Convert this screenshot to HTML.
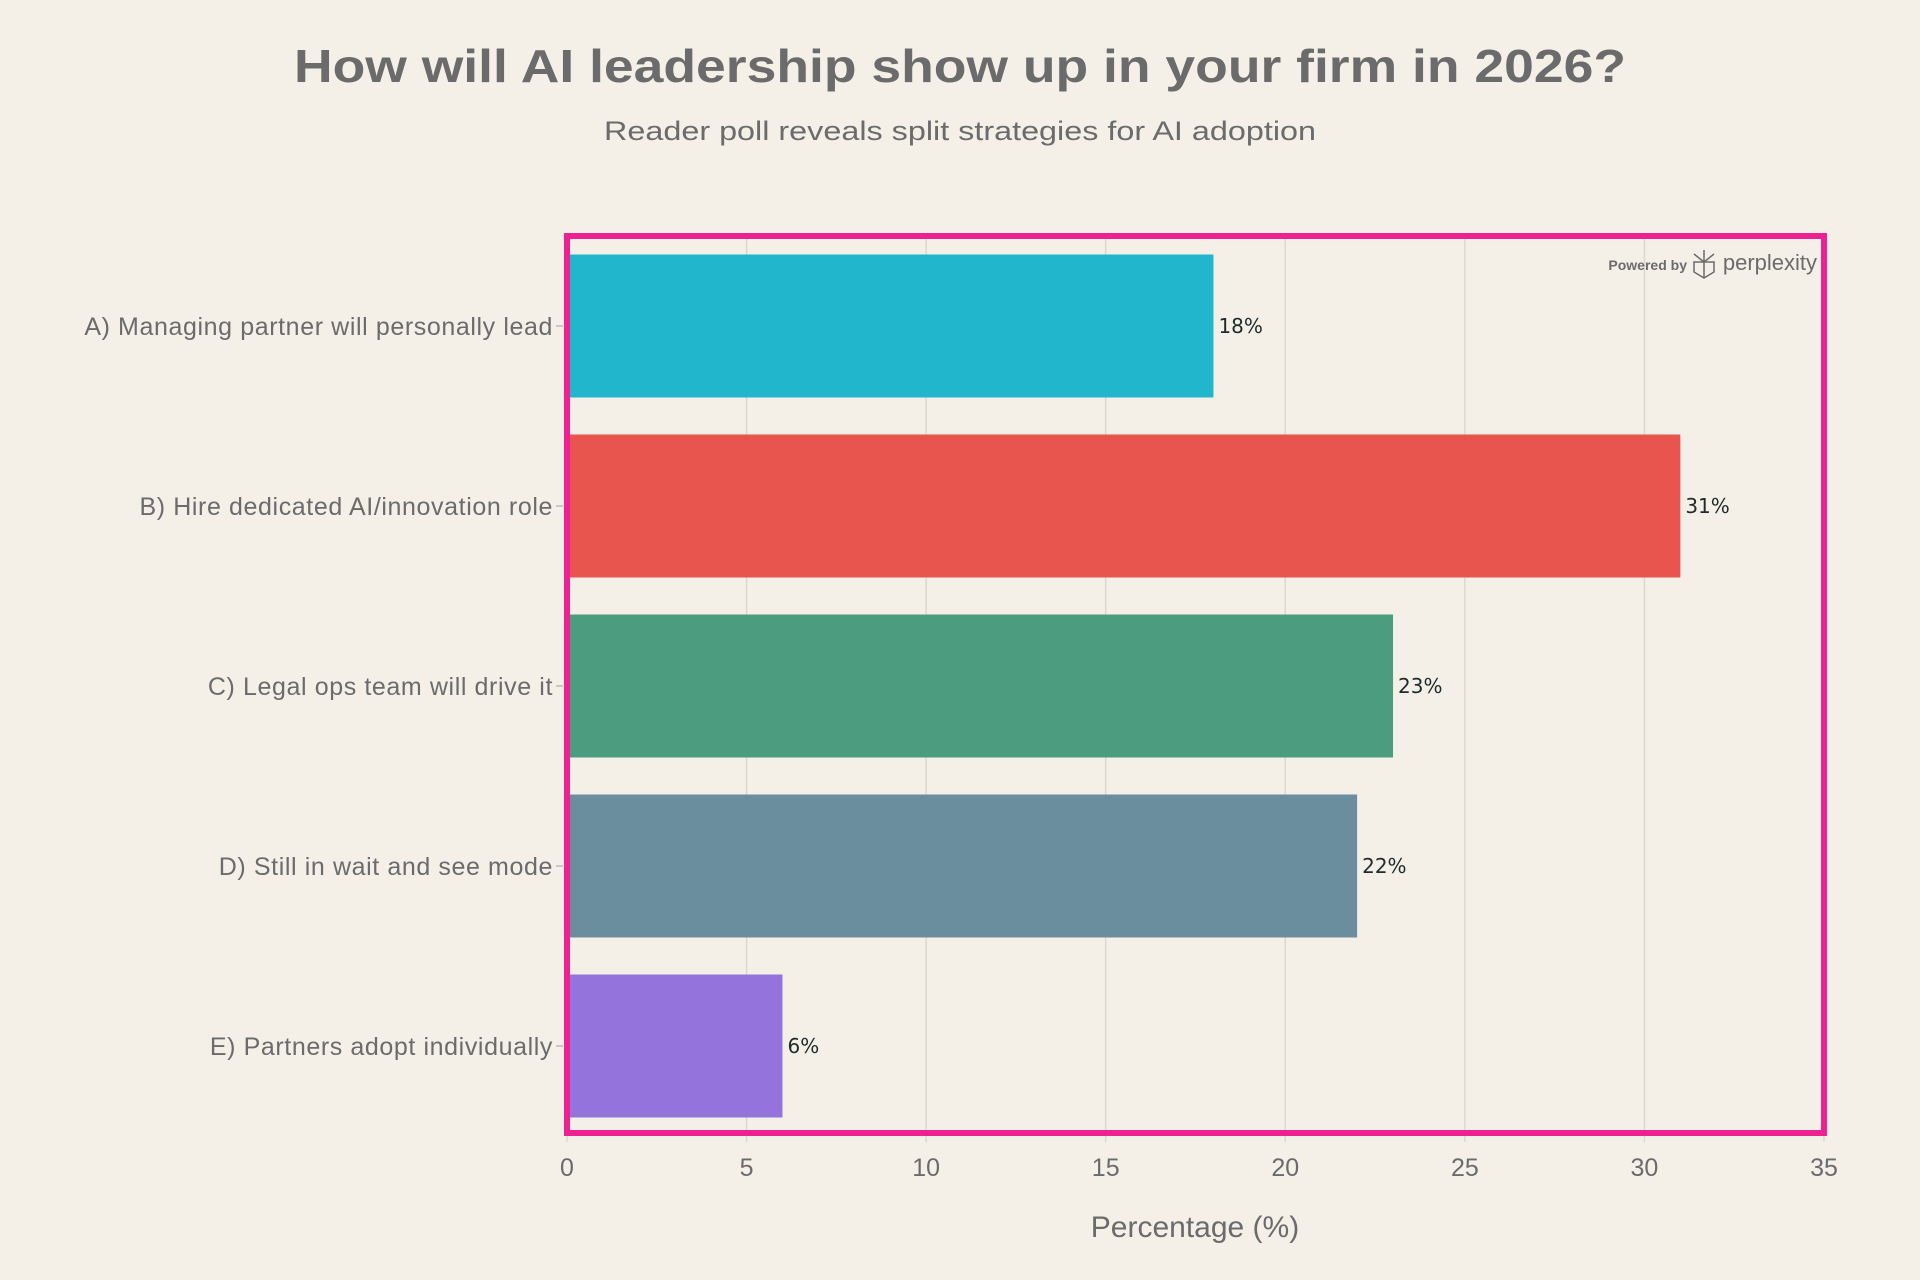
<!DOCTYPE html>
<html><head><meta charset="utf-8"><style>
html,body{margin:0;padding:0;background:#f4f0e8;}
svg{display:block;font-family:"Liberation Sans",sans-serif;}
</style></head><body>
<svg id="chart" width="1920" height="1280" viewBox="0 0 1920 1280">
<rect x="0" y="0" width="1920" height="1280" fill="#f4f0e8"/>
<text x="960" y="82" text-anchor="middle" font-size="46" font-weight="bold" fill="#6b6b6b" textLength="1332" lengthAdjust="spacingAndGlyphs">How will AI leadership show up in your firm in 2026?</text>
<text x="960" y="140" text-anchor="middle" font-size="27" fill="#6b6b6b" textLength="712" lengthAdjust="spacingAndGlyphs">Reader poll reveals split strategies for AI adoption</text>
<g id="grid"></g>
<g id="bars"></g>
<g id="ylabels"></g>
<g id="xlabels"></g>
<rect x="567" y="236" width="1257" height="897" fill="none" stroke="#ee2190" stroke-width="6"/>
<g>
<text x="1687" y="270" text-anchor="end" font-size="14" fill="#6b6b6b" font-weight="bold">Powered by</text>
<path d="M1694 254 l10 8 l10 -8 M1704 250 v28 M1694 262 h20 v10 l-10 6 l-10 -6 z" fill="none" stroke="#6b6b6b" stroke-width="1.5"/>
<text x="1817" y="270" text-anchor="end" font-size="22" fill="#6b6b6b">perplexity</text>
</g>
<text x="1195" y="1237" text-anchor="middle" font-size="30" fill="#6b6b6b">Percentage (%)</text>
</svg>
<script>
const categories = ["A) Managing partner will personally lead","B) Hire dedicated AI/innovation role","C) Legal ops team will drive it","D) Still in wait and see mode","E) Partners adopt individually"];
const values = [18,31,23,22,6];
const colors = ["#21b6cb","#e8554e","#4c9c80","#6a8e9e","#9473dc"];
const xTicks = [0,5,10,15,20,25,30,35];
const NS="http://www.w3.org/2000/svg";
const X0=567,X1=1824,XMAX=35,Y0=236,BAND=180,BARH=143;
function xs(v){return X0+(X1-X0)*v/XMAX;}
function yc(i){return Y0+BAND*(i+0.5);}
function mk(t,a,p,txt){const e=document.createElementNS(NS,t);for(const k in a)e.setAttribute(k,a[k]);if(txt!=null)e.textContent=txt;p.appendChild(e);return e;}
const grid=document.getElementById('grid'),bars=document.getElementById('bars'),yl=document.getElementById('ylabels'),xl=document.getElementById('xlabels');
xTicks.forEach(t=>{
  const l=mk('line',{x1:xs(t),x2:xs(t),y1:Y0,y2:Y0+BAND*categories.length+6,stroke:'#dcd8d0','stroke-width':1.5},grid);
  
  
  const tx=mk('text',{x:xs(t),y:1176,'text-anchor':'middle','font-size':25,fill:'#6b6b6b'},xl,String(t));
  
  
});
categories.forEach((c,i)=>{
  const r=mk('rect',{x:xs(0),y:yc(i)-BARH/2,width:xs(values[i])-xs(0),height:BARH,fill:colors[i]},bars);
  
  
  const v=mk('text',{x:xs(values[i])+5,y:yc(i)+7,'font-size':20,fill:'#1e2b2b','font-family':'DejaVu Sans, sans-serif'},bars,values[i]+'%');
  
  
  const t=mk('text',{x:553,y:yc(i)+9,'text-anchor':'end','font-size':25,'letter-spacing':0.6,fill:'#6b6b6b'},yl,c);
  
  
  mk('line',{x1:556,x2:563,y1:yc(i),y2:yc(i),stroke:'#bbb','stroke-width':1.5},yl);
});
</script>
</body></html>
